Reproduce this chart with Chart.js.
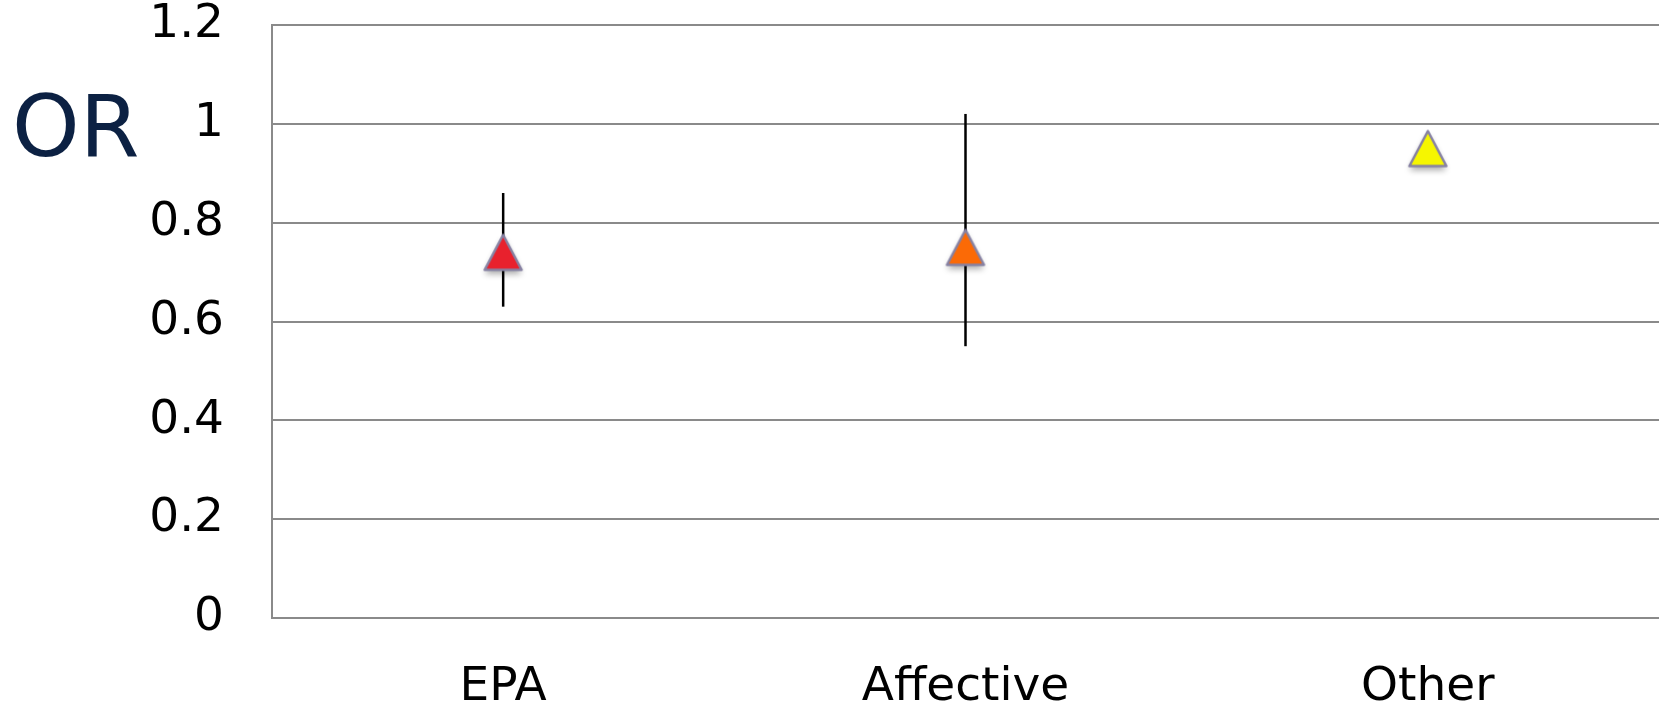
<!DOCTYPE html>
<html>
<head>
<meta charset="utf-8">
<script src="https://cdn.jsdelivr.net/npm/chart.js@4"></script>
<style>
  html, body { margin: 0; background: #fff; overflow: hidden; }
  #wrap { width: 1659px; height: 704px; position: relative; }
  canvas { display: block; }
</style>
</head>
<body>
<div id="wrap"><canvas id="orChart"></canvas></div>
<script>
// ---- data ----
const categories = ["EPA", "Affective", "Other"];
const oddsRatio = [0.74, 0.75, 0.95];
const ciLow = [0.63, 0.55, 0.95];
const ciHigh = [0.86, 1.02, 0.95];
const markerColors = ["#e8212d", "#fb6a06", "#f6f600"];
const yTicks = [0, 0.2, 0.4, 0.6, 0.8, 1, 1.2];

const FONT = "'DejaVu Sans', Verdana, sans-serif";

// triangle marker with soft shadow, centred on its bounding box like the original
function makeTriangle(color) {
  const c = document.createElement("canvas");
  c.width = 60;
  c.height = 60;
  const g = c.getContext("2d");
  const cx = 30, cy = 30, w = 37, h = 35;
  g.beginPath();
  g.moveTo(cx, cy - h / 2);
  g.lineTo(cx + w / 2, cy + h / 2);
  g.lineTo(cx - w / 2, cy + h / 2);
  g.closePath();
  g.save();
  g.shadowColor = "rgba(0,0,0,0.35)";
  g.shadowBlur = 6;
  g.shadowOffsetY = 4;
  g.fillStyle = color;
  g.fill();
  g.restore();
  g.lineJoin = "round";
  g.lineWidth = 2.5;
  g.strokeStyle = "#8782a3";
  g.stroke();
  return c;
}
const markers = markerColors.map(makeTriangle);

const errorBars = {
  id: "errorBars",
  beforeDatasetsDraw(chart) {
    const { ctx, scales } = chart;
    ctx.save();
    ctx.strokeStyle = "#000";
    ctx.lineWidth = 2.5;
    categories.forEach((cat, i) => {
      if (ciHigh[i] === ciLow[i]) return;
      const x = scales.x.getPixelForValue(i);
      ctx.beginPath();
      ctx.moveTo(x, scales.y.getPixelForValue(ciHigh[i]));
      ctx.lineTo(x, scales.y.getPixelForValue(ciLow[i]));
      ctx.stroke();
    });
    ctx.restore();
  }
};

const orLabel = {
  id: "orLabel",
  afterDraw(chart) {
    const ctx = chart.ctx;
    ctx.save();
    ctx.font = `86px ${FONT}`;
    ctx.fillStyle = "#0c2143";
    ctx.textBaseline = "alphabetic";
    ctx.fillText("OR", 12, 156);
    ctx.restore();
  }
};

new Chart(document.getElementById("orChart"), {
  type: "line",
  data: {
    labels: categories,
    datasets: [{
      data: oddsRatio,
      showLine: false,
      pointStyle: markers,
      pointRadius: 18,
      pointHoverRadius: 18
    }]
  },
  options: {
    responsive: true,
    maintainAspectRatio: false,
    animation: false,
    layout: { autoPadding: false, padding: { left: 0, right: 0, top: 25, bottom: 0 } },
    plugins: { legend: { display: false }, tooltip: { enabled: false } },
    scales: {
      x: {
        offset: true,
        grid: { display: false, drawTicks: false },
        border: { display: true, color: "#8a8a8a", width: 2 },
        ticks: { color: "#000", font: { family: FONT, size: 47 }, padding: 42 },
        afterFit(s) {
          s.height = 86;
          s.paddingLeft = 0;
          s.paddingRight = 0;
        }
      },
      y: {
        min: 0,
        max: 1.2,
        afterBuildTicks(s) { s.ticks = yTicks.map(v => ({ value: v })); },
        grid: { color: "#8a8a8a", lineWidth: 2, drawTicks: false },
        border: { display: true, color: "#8a8a8a", width: 2 },
        ticks: {
          color: "#000",
          font: { family: FONT, size: 47 },
          padding: 48,
          callback: v => String(v)
        },
        afterFit(s) {
          s.width = 272;
          s.paddingTop = 0;
          s.paddingBottom = 0;
        }
      }
    }
  },
  plugins: [errorBars, orLabel]
});
</script>
</body>
</html>
